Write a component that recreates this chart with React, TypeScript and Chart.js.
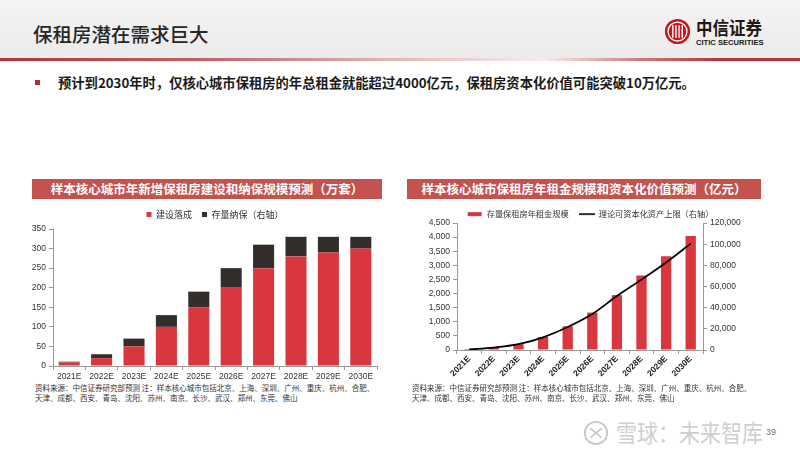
import React, { useEffect, useRef } from "react";
import { Chart, registerables } from "chart.js";

Chart.register(...registerables);

const years = ["2021E", "2022E", "2023E", "2024E", "2025E", "2026E", "2027E", "2028E", "2029E", "2030E"];
const builtNew = [9, 20, 50, 100, 150, 200, 250, 280, 290, 300];
const stockIncluded = [2, 10, 20, 30, 40, 50, 60, 50, 40, 30];
const annualRent = [36, 85, 207, 462, 840, 1326, 1946, 2640, 3321, 4039];
const capitalValue = [600, 2300, 5500, 12000, 21700, 34000, 51000, 66500, 82700, 100500];

const FONT = "'Liberation Sans', 'Noto Sans CJK SC', Arial, sans-serif";
const CJK = "'Noto Sans CJK SC', 'Liberation Sans', sans-serif";
const RED = "#d9363e";
const DARK = "#332e2c";

function makeSwatch(w: number, h: number, color: string, cw: number, ch: number) {
  const c = document.createElement("canvas");
  c.width = cw;
  c.height = ch;
  const ctx = c.getContext("2d")!;
  ctx.fillStyle = color;
  ctx.fillRect((cw - w) / 2, (ch - h) / 2, w, h);
  return c;
}

function LeftChart() {
  const ref = useRef<HTMLCanvasElement>(null);
  useEffect(() => {
    const chart = new Chart(ref.current!, {
      type: "bar",
      data: {
        labels: years,
        datasets: [
          { label: "建设落成", data: builtNew, backgroundColor: RED, barPercentage: 0.65, categoryPercentage: 1 },
          { label: "存量纳保（右轴）", data: stockIncluded, backgroundColor: DARK, barPercentage: 0.65, categoryPercentage: 1 },
        ],
      },
      options: {
        responsive: false,
        animation: false,
        layout: { padding: { left: 0, right: 8, top: 0, bottom: 0 } },
        plugins: {
          tooltip: { enabled: false },
          legend: {
            position: "top",
            fullSize: false,
            maxHeight: 31,
            labels: { boxWidth: 5, boxHeight: 5, font: { family: CJK, size: 9 }, color: "#333", padding: 10 },
          },
        },
        scales: {
          x: {
            stacked: true,
            border: { color: "#999" },
            grid: { drawOnChartArea: false, tickLength: 4, color: "#999" },
            ticks: { font: { family: FONT, size: 8.5 }, color: "#333", padding: 2, maxRotation: 0, autoSkip: false },
            afterFit: (s: any) => { s.height = 16; },
          },
          y: {
            stacked: true,
            min: 0,
            max: 350,
            border: { color: "#999" },
            grid: { drawOnChartArea: false, tickLength: 4, color: "#999" },
            ticks: { stepSize: 50, font: { family: FONT, size: 8.5 }, color: "#333", padding: 3 },
            afterFit: (s: any) => { s.width = 33; },
          },
        },
      },
    });
    return () => chart.destroy();
  }, []);
  return <canvas ref={ref} width={365} height={182} style={{ position: "absolute", left: 20, top: 200 }} />;
}

function RightChart() {
  const ref = useRef<HTMLCanvasElement>(null);
  useEffect(() => {
    const redSw = makeSwatch(14, 4, RED, 16, 8);
    const blackSw = makeSwatch(16, 1.6, "#000", 16, 8);
    const chart = new Chart(ref.current!, {
      type: "bar",
      data: {
        labels: years,
        datasets: [
          {
            type: "bar",
            label: "存量保租房年租金规模",
            data: annualRent,
            backgroundColor: RED,
            barPercentage: 0.42,
            categoryPercentage: 1,
            yAxisID: "y",
            pointStyle: redSw as any,
            order: 2,
          },
          {
            type: "line",
            label: "理论可资本化资产上限（右轴）",
            data: capitalValue,
            borderColor: "#000",
            borderWidth: 1.8,
            pointRadius: 0,
            cubicInterpolationMode: "monotone",
            yAxisID: "y1",
            pointStyle: blackSw as any,
            order: 1,
          } as any,
        ],
      },
      options: {
        responsive: false,
        animation: false,
        layout: { padding: { left: 0, right: 0, top: 0, bottom: 0 } },
        plugins: {
          tooltip: { enabled: false },
          legend: {
            position: "top",
            maxHeight: 23,
            labels: {
              usePointStyle: true,
              pointStyleWidth: 16,
              font: { family: CJK, size: 8.2 },
              color: "#333",
              padding: 10,
              sort: (a: any, b: any) => a.datasetIndex - b.datasetIndex,
            },
          },
        },
        scales: {
          x: {
            border: { color: "#999" },
            grid: { drawOnChartArea: false, tickLength: 4, color: "#999" },
            ticks: { font: { family: FONT, size: 8.5, weight: "bold" }, color: "#222", padding: 0, minRotation: 45, maxRotation: 45, autoSkip: false },
            afterFit: (s: any) => { s.height = 36; },
          },
          y: {
            position: "left",
            min: 0,
            max: 4500,
            border: { color: "#999" },
            grid: { drawOnChartArea: false, tickLength: 4, color: "#999" },
            ticks: { stepSize: 500, font: { family: FONT, size: 8.5 }, color: "#333", padding: 3 },
            afterFit: (s: any) => { s.width = 57; },
          },
          y1: {
            position: "right",
            min: 0,
            max: 120000,
            border: { color: "#999" },
            grid: { drawOnChartArea: false, tickLength: 4, color: "#999" },
            ticks: { stepSize: 20000, font: { family: FONT, size: 8.5 }, color: "#333", padding: 3 },
            afterFit: (s: any) => { s.width = 77; },
          },
        },
      },
    });
    return () => chart.destroy();
  }, []);
  return <canvas ref={ref} width={380} height={186} style={{ position: "absolute", left: 400, top: 200 }} />;
}

function Logo() {
  return (
    <div style={{ position: "absolute", left: 664, top: 18 }}>
      <svg width={27} height={27} viewBox="0 0 30 30" style={{ position: "absolute", left: 0, top: 0 }}>
        <circle cx={15} cy={15} r={14} fill="#c8161d" />
        <circle cx={15} cy={15} r={10.5} fill="none" stroke="#fff" strokeWidth={1.5} />
        <rect x={9} y={8} width={1.6} height={14} fill="#fff" />
        <rect x={12.5} y={8} width={1.6} height={14} fill="#fff" />
        <rect x={16} y={8} width={1.6} height={14} fill="#fff" />
        <rect x={19.5} y={8} width={1.6} height={14} fill="#fff" />
      </svg>
      <div style={{ position: "absolute", left: 32, top: -3, fontFamily: CJK, fontWeight: 700, fontSize: 16.5, lineHeight: "22px", color: "#231815", whiteSpace: "nowrap", transform: "scaleY(1.12)", transformOrigin: "left top" }}>中信证券</div>
      <div style={{ position: "absolute", left: 32, top: 20, fontFamily: FONT, fontWeight: 700, fontSize: 7.6, color: "#231815", whiteSpace: "nowrap" }}>CITIC SECURITIES</div>
    </div>
  );
}

export default function App() {
  const noteStyle: React.CSSProperties = {
    position: "absolute",
    fontFamily: CJK,
    fontSize: 7.5,
    lineHeight: "10px",
    color: "#333",
    whiteSpace: "nowrap",
  };
  const barTitle: React.CSSProperties = {
    position: "absolute",
    top: 179,
    height: 20,
    background: "#c4524f",
    color: "#fff",
    fontFamily: CJK,
    fontWeight: 700,
    fontSize: 12.5,
    lineHeight: "20px",
    textAlign: "center",
    whiteSpace: "nowrap",
  };
  return (
    <div style={{ position: "absolute", left: 0, top: 0, width: 800, height: 450, background: "#fff", overflow: "hidden" }}>
      <div style={{ position: "absolute", left: 0, top: 0, width: 800, height: 58, background: "linear-gradient(to bottom, #f4f4f4, #ebebeb)" }} />
      <div style={{ position: "absolute", left: 0, top: 58, width: 800, height: 3, background: "linear-gradient(to right, #b3343a 0%, #c26066 25%, #e3b9bb 50%, #f6ecec 68%, #d07a7e 80%, #b3343a 90%, #b3343a 100%)" }} />
      <div style={{ position: "absolute", left: 33, top: 19, fontFamily: CJK, fontSize: 19.5, fontWeight: 500, color: "#262626", whiteSpace: "nowrap" }}>保租房潜在需求巨大</div>
      <Logo />
      <div style={{ position: "absolute", left: 35, top: 80, width: 5, height: 5, background: "#c0282f" }} />
      <div style={{ position: "absolute", left: 58, top: 73, fontFamily: CJK, fontWeight: 700, fontSize: 13.3, color: "#1a1a1a", whiteSpace: "nowrap" }}>预计到2030年时，仅核心城市保租房的年总租金就能超过4000亿元，保租房资本化价值可能突破10万亿元。</div>

      <div style={{ ...barTitle, left: 32, width: 350 }}>样本核心城市年新增保租房建设和纳保规模预测（万套）</div>
      <div style={{ ...barTitle, left: 407, width: 354 }}>样本核心城市保租房年租金规模和资本化价值预测（亿元）</div>

      <LeftChart />
      <RightChart />

      <div style={{ ...noteStyle, left: 35, top: 383 }}>
        资料来源：中信证券研究部预测 注：样本核心城市包括北京、上海、深圳、广州、重庆、杭州、合肥、<br />天津、成都、西安、青岛、沈阳、苏州、南京、长沙、武汉、郑州、东莞、佛山
      </div>
      <div style={{ ...noteStyle, left: 412, top: 383 }}>
        资料来源：中信证券研究部预测 注：样本核心城市包括北京、上海、深圳、广州、重庆、杭州、合肥、<br />天津、成都、西安、青岛、沈阳、苏州、南京、长沙、武汉、郑州、东莞、佛山
      </div>

      <svg width={26} height={26} viewBox="0 0 28 28" style={{ position: "absolute", left: 583, top: 420 }}>
        <circle cx={14} cy={14} r={12} fill="none" stroke="#c8c8c8" strokeWidth={2} />
        <path d="M8 9 L20 19 M20 9 L8 19" stroke="#c8c8c8" strokeWidth={2} fill="none" />
      </svg>
      <div style={{ position: "absolute", left: 616, top: 417, fontFamily: CJK, fontSize: 21, lineHeight: "26px", color: "#cfcfcf", whiteSpace: "nowrap", transform: "scaleY(1.15)", transformOrigin: "left top" }}>雪球：未来智库</div>
      <div style={{ position: "absolute", left: 766, top: 427, fontFamily: FONT, fontSize: 9, color: "#777" }}>39</div>
    </div>
  );
}
